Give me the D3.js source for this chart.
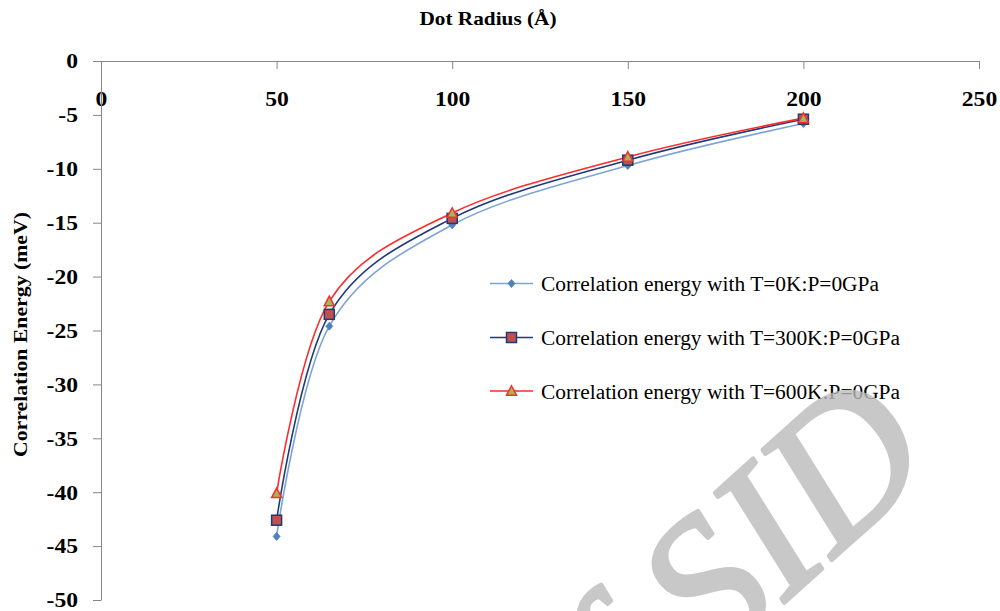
<!DOCTYPE html>
<html>
<head>
<meta charset="utf-8">
<script src="https://cdn.jsdelivr.net/npm/d3@7"></script>
<style>
  html, body { margin: 0; padding: 0; background: #fff; }
  svg { display: block; }
  text { font-family: "Liberation Serif", "Times New Roman", serif; }
</style>
</head>
<body>
<svg id="chart" width="1000" height="611"></svg>
<script>
// ---- data ----
const dotRadius = [50, 65, 100, 150, 200];
const energy0K = [-44.1, -24.6, -15.2, -9.7, -5.8];
const energy300K = [-42.6, -23.5, -14.6, -9.2, -5.4];
const energy600K = [-40.1, -22.3, -14.1, -8.9, -5.3];
const xTicks = [0, 50, 100, 150, 200, 250];
const yTicks = [0, -5, -10, -15, -20, -25, -30, -35, -40, -45, -50];
const seriesNames = [
  "Correlation energy with T=0K:P=0GPa",
  "Correlation energy with T=300K:P=0GPa",
  "Correlation energy with T=600K:P=0GPa"
];
const xTitle = "Dot Radius (Å)";
const yTitle = "Correlation Energy (meV)";
const watermarkMain = "SID";
const watermarkLead = "Archive of\u00A0";

const svg = d3.select("#chart");
const x = d3.scaleLinear().domain([0, 250]).range([101, 979]);
const y = d3.scaleLinear().domain([0, -50]).range([61, 600]);
const axisColor = "#868686";
const stretch = 1.18;

function widen(sel, k) {
  sel.each(function () {
    const w = this.getComputedTextLength();
    d3.select(this).attr("textLength", w * k).attr("lengthAdjust", "spacingAndGlyphs");
  });
}

// x axis (at y = 0, top)
const gx = svg.append("g").attr("transform", `translate(0,${y(0)})`)
  .call(d3.axisBottom(x).tickValues(xTicks).tickSize(8).tickSizeOuter(0).tickFormat(d => String(d)));
gx.select(".domain").attr("stroke", axisColor);
gx.selectAll(".tick line").attr("stroke", axisColor);
gx.selectAll(".tick text").attr("y", 45).attr("dy", 0)
  .attr("font-size", 20).attr("font-weight", "bold").attr("fill", "#000")
  .attr("font-family", "Liberation Serif");
widen(gx.selectAll(".tick text"), stretch);

// y axis
const gy = svg.append("g").attr("transform", `translate(${x(0)},0)`)
  .call(d3.axisLeft(y).tickValues(yTicks).tickSize(8).tickSizeOuter(0).tickFormat(d => String(d)));
gy.select(".domain").attr("stroke", axisColor);
gy.selectAll(".tick line").attr("stroke", axisColor);
gy.selectAll(".tick text").attr("x", -23).attr("dy", "0.34em")
  .attr("font-size", 20).attr("font-weight", "bold").attr("fill", "#000")
  .attr("font-family", "Liberation Serif");
widen(gy.selectAll(".tick text"), stretch);

// titles
svg.append("text").attr("x", 488).attr("y", 25).attr("text-anchor", "middle")
  .attr("font-size", 19).attr("font-weight", "bold").text(xTitle)
  .attr("textLength", 137).attr("lengthAdjust", "spacingAndGlyphs");
svg.append("text").attr("transform", "translate(27,334.5) rotate(-90)").attr("text-anchor", "middle")
  .attr("font-size", 19).attr("font-weight", "bold").text(yTitle)
  .attr("textLength", 245).attr("lengthAdjust", "spacingAndGlyphs");

// series
const styles = [
  { line: "#7DA4D6", marker: "diamond", fill: "#4F81BD", stroke: "#4F81BD", size: 7 },
  { line: "#1F3A78", marker: "square", fill: "#C0504D", stroke: "#1F3A78", size: 10 },
  { line: "#FF2A2A", marker: "triangle", fill: "#9BBB59", stroke: "#FF2A2A", size: 10 }
];
const allSeries = [energy0K, energy300K, energy600K];
const line = d3.line().x(d => x(d[0])).y(d => y(d[1])).curve(d3.curveCatmullRom.alpha(0));

function drawMarker(g, st, cx, cy) {
  const s = st.size;
  if (st.marker === "diamond") {
    g.append("path").attr("d", `M${cx},${cy - s / 2 - 0.5}L${cx + s / 2},${cy}L${cx},${cy + s / 2 + 0.5}L${cx - s / 2},${cy}Z`)
      .attr("fill", st.fill).attr("stroke", st.stroke).attr("stroke-width", 0.8);
  } else if (st.marker === "square") {
    g.append("rect").attr("x", cx - s / 2).attr("y", cy - s / 2).attr("width", s).attr("height", s)
      .attr("fill", st.fill).attr("stroke", st.stroke).attr("stroke-width", 1.5);
  } else {
    const h = s * 0.85;
    g.append("path").attr("d", `M${cx},${cy - h / 2 - 1}L${cx + s / 2},${cy + h / 2}L${cx - s / 2},${cy + h / 2}Z`)
      .attr("fill", st.fill).attr("stroke", st.stroke).attr("stroke-width", 1.5);
  }
}

allSeries.forEach((vals, i) => {
  const st = styles[i];
  const pts = dotRadius.map((r, j) => [r, vals[j]]);
  svg.append("path").datum(pts).attr("d", line).attr("fill", "none")
    .attr("stroke", st.line).attr("stroke-width", 1.6);
});
allSeries.forEach((vals, i) => {
  const st = styles[i];
  const g = svg.append("g");
  dotRadius.forEach((r, j) => drawMarker(g, st, x(r), y(vals[j])));
});

// legend
const legendY = [283.5, 337.5, 391];
const legendW = [338, 359, 359];
seriesNames.forEach((name, i) => {
  const st = styles[i];
  const g = svg.append("g");
  g.append("line").attr("x1", 490).attr("x2", 533).attr("y1", legendY[i]).attr("y2", legendY[i])
    .attr("stroke", st.line).attr("stroke-width", 1.6);
  drawMarker(g, st, 511.5, legendY[i]);
  g.append("text").attr("x", 541).attr("y", legendY[i] + 7.5).attr("font-size", 20).attr("fill", "#000")
    .text(name).attr("textLength", legendW[i]).attr("lengthAdjust", "spacingAndGlyphs");
});

// watermark (drawn on top, semi-transparent)
const wm = svg.append("g").attr("transform", "translate(712,668) rotate(-42)")
  .attr("opacity", 0.8)
  .attr("font-size", 196).attr("font-style", "italic")
  .attr("fill", "#bbbbbb").attr("stroke", "#bbbbbb").attr("stroke-width", 4)
  .attr("stroke-linejoin", "round");
wm.append("text").attr("x", 0).attr("y", 0).attr("text-anchor", "start").text(watermarkMain);
wm.append("text").attr("x", 0).attr("y", 0).attr("text-anchor", "end").text(watermarkLead);
</script>
</body>
</html>
